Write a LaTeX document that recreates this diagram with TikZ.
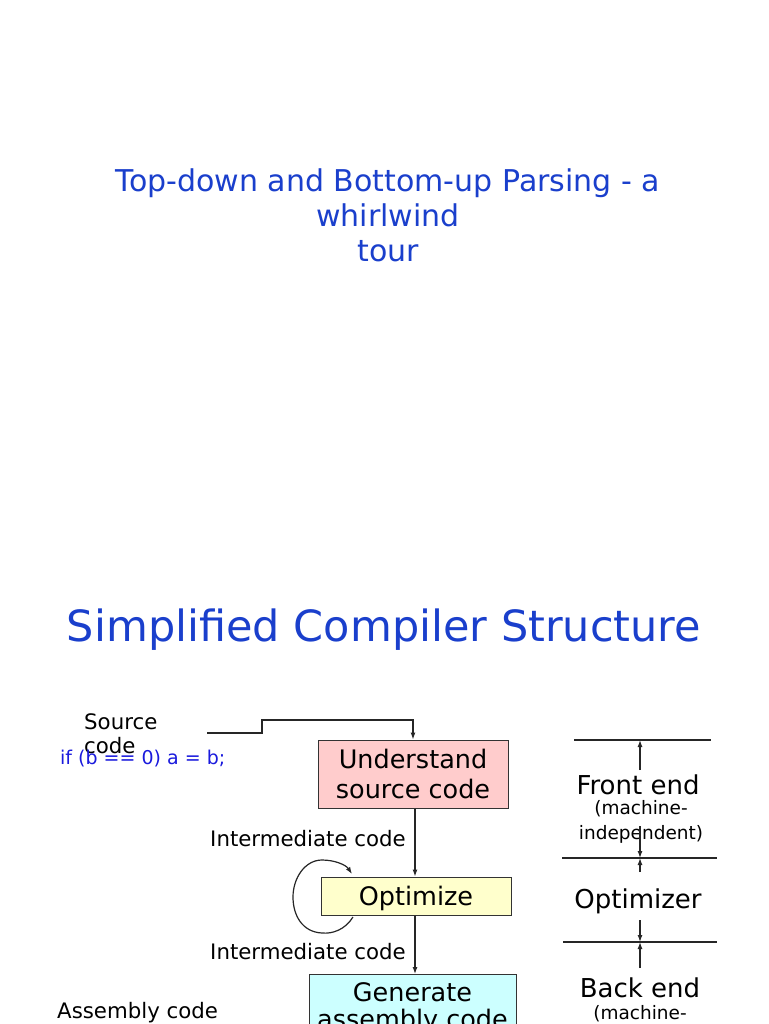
\documentclass[tikz,border=0pt]{standalone}
\usepackage{fontspec}
\setmainfont{DejaVu Sans}
\usetikzlibrary{arrows.meta}
\definecolor{ttl}{HTML}{1A3FCC}
\definecolor{code}{HTML}{1A1ADD}
\definecolor{pinkf}{HTML}{FFCCCC}
\definecolor{yelf}{HTML}{FFFFCC}
\definecolor{cyanf}{HTML}{CCFFFF}
\tikzset{
  box/.style={draw=black!80, line width=1pt, align=center, inner sep=0pt, font=\fontsize{25.5}{30}\selectfont},
  conn/.style={draw=black!85, line width=1.2pt, -{Latex[length=7pt,width=5pt]}},
  plain/.style={draw=black!85, line width=1.3pt},
  lbl/.style={font=\fontsize{21.3}{24}\selectfont, inner sep=0pt},
  side/.style={font=\fontsize{26}{30}\selectfont, inner sep=0pt},
  sidesmall/.style={font=\fontsize{18.5}{25}\selectfont, inner sep=0pt, align=center},
}
\begin{document}
\begin{tikzpicture}[x=1pt,y=-1pt]
\useasboundingbox (0,0) rectangle (768,1024);
\clip (0,0) rectangle (768,1024);
% titles
\node[text=ttl, font=\fontsize{30}{35}\selectfont, align=center, inner sep=0pt] (t1) at (388,215) {Top-down and Bottom-up Parsing - a\\whirlwind\\tour};
\node[text=ttl, font=\fontsize{43}{50}\selectfont, inner sep=0pt] (t2) at (384,630) {Simplified Compiler Structure};
% left labels
\node[lbl, anchor=west, align=left] (src) at (84,734) {Source\\code};
\node[text=code, font=\fontsize{19}{22}\selectfont, anchor=west, inner sep=0pt] (ifc) at (60,759) {if (b == 0) a = b;};
\node[lbl, anchor=west] (asm) at (57,1013) {Assembly code};
% boxes
\node[box, fill=pinkf, minimum width=190pt, minimum height=68pt] (und) at (413,774) {Understand\\source code};
\node[box, fill=yelf, minimum width=190pt, minimum height=38pt, text depth=0pt] (opt) at (416,896) {Optimize};
\node[box, fill=cyanf, minimum width=207pt, minimum height=68pt, anchor=north, font=\fontsize{25.5}{27}\selectfont] (gen) at (412.5,974) {Generate\\assembly code};
% intermediate labels
\node[lbl, anchor=east] (im1) at (406,839) {Intermediate code};
\node[lbl, anchor=east] (im2) at (406,952) {Intermediate code};
% connectors
\coordinate (s0) at (207,733);
\draw[conn] (s0) -- (262,733) -- (262,720) -- (und.north |- 0,720) -- (und.north);
\draw[conn] (und.south -| 415,0) -- (opt.north -| 415,0);
\draw[conn] (opt.south -| 415,0) -- (gen.north -| 415,0);
\coordinate (l0) at (353,917);
\coordinate (l1) at (352,874);
\draw[conn] (l0) .. controls (345,930) and (332,934) .. (322,933) .. controls (302,932) and (293,915) .. (293,897) .. controls (293,878) and (305,860) .. (322,860) .. controls (335,860) and (346,865) .. (l1);
% right side
\coordinate (h1a) at (574,740); \coordinate (h1b) at (711,740);
\coordinate (h2a) at (562,858); \coordinate (h2b) at (717,858);
\coordinate (h3a) at (563,942); \coordinate (h3b) at (717,942);
\draw[plain] (h1a) -- (h1b);
\draw[plain] (h2a) -- (h2b);
\draw[plain] (h3a) -- (h3b);
\node[side] (fe) at (638,785) {Front end};
\node[sidesmall] (fem) at (641,822) {(machine-\\independent)};
\node[side] (op) at (638,901) {Optimizer};
\node[side] (be) at (640,988) {Back end};
\node[sidesmall] (bem) at (640,1014) {(machine-};
\coordinate (a1) at (640,770);
\coordinate (a2) at (640,826);
\coordinate (a3) at (640,872);
\coordinate (a4) at (640,920);
\coordinate (a5) at (640,968);
\draw[conn] (a1) -- (a1 |- h1a);
\draw[conn] (a2) -- (a2 |- h2a);
\draw[conn] (a3) -- (a3 |- h2a);
\draw[conn] (a4) -- (a4 |- h3a);
\draw[conn] (a5) -- (a5 |- h3a);
\end{tikzpicture}
\end{document}
